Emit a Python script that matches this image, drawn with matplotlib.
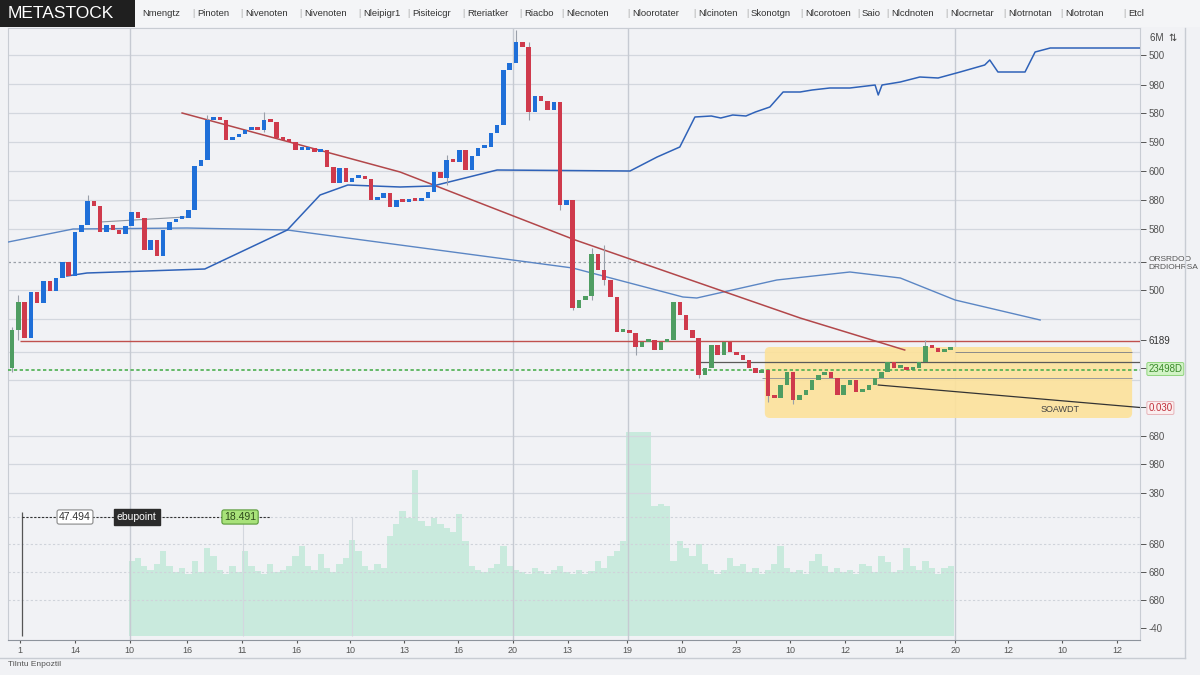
import numpy as np
import matplotlib.pyplot as plt
from matplotlib.patches import Rectangle, FancyBboxPatch
from matplotlib.lines import Line2D

plt.rcParams['font.family'] = ['Liberation Sans', 'DejaVu Sans']

# ---- data ----
first_open = 272
closes = [310, 338, 302, 348, 337, 359, 349, 362, 378, 364,
          408, 415, 439, 434, 408, 415, 410, 406, 414, 428,
          422, 390, 400, 384, 410, 418, 421, 422, 430, 474,
          480, 520, 522, 520, 500, 503, 506, 510, 512, 510,
          520, 518, 502, 500, 498, 490, 490, 492, 488, 490,
          473, 457, 472, 458, 462, 463, 461, 440, 442, 447,
          433, 440, 438, 440, 439, 442, 448, 468, 462, 480,
          478, 490, 470, 484, 492, 493, 507, 515, 570, 577,
          598, 593, 528, 544, 539, 530, 538, 435, 440, 332,
          340, 344, 386, 370, 360, 343, 308, 310, 307, 293,
          298, 300, 290, 298, 300, 338, 325, 310, 302, 265,
          272, 295, 285, 298, 288, 285, 280, 272, 267, 270,
          244, 242, 255, 268, 240, 245, 250, 260, 265, 268,
          262, 245, 255, 260, 248, 250, 255, 262, 268, 278,
          272, 272, 270, 272, 278, 294, 292, 288, 290, 291]

wick_idx = [0, 1, 12, 31, 40, 69, 80, 82, 87, 89, 92, 94, 99, 109, 120, 124, 145]
wick_low = [268, 300, 428, 515, 508, 455, 590, 520, 430, 330, 340, 355, 285, 262, 238, 236, 290]
wick_high = [313, 345, 445, 525, 528, 485, 610, 598, 445, 345, 392, 395, 300, 275, 250, 252, 300]

vol_start = 19
volume = [75, 78, 70, 66, 72, 85, 70, 64, 68, 62, 75, 64, 88, 80, 66, 62, 70, 64, 85, 70,
          65, 62, 72, 64, 66, 70, 80, 90, 70, 66, 82, 68, 64, 72, 78, 96, 85, 70, 66, 72,
          68, 100, 112, 125, 118, 166, 115, 110, 118, 112, 108, 104, 122, 95, 70, 66, 64, 68, 72, 90,
          70, 66, 64, 62, 68, 65, 62, 66, 70, 64, 62, 66, 62, 65, 75, 68, 80, 85, 95, 204,
          204, 204, 204, 130, 132, 130, 75, 95, 88, 80, 92, 72, 66, 62, 66, 78, 70, 72, 64, 68,
          62, 66, 72, 90, 68, 64, 66, 62, 75, 82, 70, 64, 68, 64, 66, 62, 72, 70, 64, 80,
          74, 64, 66, 88, 70, 66, 75, 68, 62, 68, 70]

ma_slow_x = [-0.6, 9.7, 27.8, 43.7, 61.6, 89.0, 106.5, 108.7, 121.4, 133.0, 141.0, 149.7, 163.2]
ma_slow_y = [398, 411, 412, 410, 395, 372, 343, 342, 360, 368, 362, 340, 320]

trend2_x = [8.7, 11.9, 30.6, 43.7, 48.9, 53.3, 61.6, 66.8, 77.0, 98.1, 102.4, 106.0, 108.4,
            111.0, 112.5, 114.4, 116.5, 118.0, 120.3, 122.4, 125.1, 127.0, 129.8, 133.0, 137.0,
            137.5, 138.1, 141.0, 144.1, 147.0, 150.5, 154.4, 155.2, 156.5, 160.8, 162.4, 164.8, 179.8]
trend2_y = [364, 367, 371, 410, 445, 455, 453, 454, 470, 469, 483, 493, 523,
            524, 522, 525, 524, 528, 533, 548, 548, 550, 552, 552, 555,
            545, 555, 558, 563, 562, 568, 575, 580, 568, 568, 588, 592, 592]

resist_x = [27.0, 61.6, 89.4, 125.1, 141.7]
resist_y = [527, 468, 400, 322, 290]

tick_idx = [1.3, 10.0, 18.7, 27.8, 36.5, 45.2, 53.7, 62.2, 70.8, 79.5, 88.2,
            97.6, 106.3, 115.0, 123.5, 132.2, 140.9, 149.7, 158.1, 166.7, 175.4]
tick_labels = ['1', '14', '10', '16', '11', '16', '10', '13', '16', '20', '13',
               '19', '10', '23', '10', '12', '14', '20', '12', '10', '12']

right_vals = [585, 555, 527, 498, 469, 440, 411, 378, 350, 300, 272, 233,
              204, 176, 147, 96, 68, 40, 12]
right_labels = ['500', '980', '580', '590', '600', '880', '580', 'ORSRDOO\nDRDIOHRSA', '500',
                '6189', '23498D', '0.030', '680', '980', '380', '680', '680', '680', '-40']

grid_solid = [585, 556, 527, 498, 469, 440, 411, 350, 321, 288, 260, 204, 176, 147]
grid_dotted = [123, 96, 68, 40]

menu_items = ['Nmengtz', 'Pinoten', 'Nivenoten', 'Nivenoten', 'Nleipigr1', 'Pisiteicgr',
              'Rteriatker', 'Riacbo', 'Nlecnoten', 'Nloorotater', 'Nlcinoten', 'Skonotgn',
              'Nlcorotoen', 'Saio', 'Nlcdnoten', 'Nlocrnetar', 'Nlotrnotan', 'Nlotrotan', 'Etcl']
menu_x = [142, 197, 245, 304, 363, 412, 467, 524, 566, 632, 698, 751, 805, 862, 891, 950,
          1008, 1065, 1128]

# ---- figure ----
W, H = 1200, 675
fig = plt.figure(figsize=(12, 6.75), dpi=100, facecolor='#f1f2f5')
ax = fig.add_axes([8 / W, 1 - 640 / H, (1140 - 8) / W, (640 - 28) / H])
axv = ax.twinx()
ax.set_zorder(axv.get_zorder() + 1)
ax.patch.set_visible(False)
axv.set_facecolor('#f5f6f9')

xlim = (-0.635, 179.05)
ax.set_xlim(*xlim)
ax.set_ylim(0, 612)
axv.set_ylim(-4, 608)
axv.set_yticks([])

# volume
vx = np.arange(vol_start, vol_start + len(volume))
axv.bar(vx, volume, width=1.0, color='#c9eadd', edgecolor='none', zorder=1)

# grid
for g in grid_solid:
    ax.axhline(g, color='#d3d7de', lw=0.9, zorder=1)
for g in grid_dotted:
    ax.axhline(g, color='#cfd3da', lw=0.8, ls=(0, (2, 2)), zorder=1)
ax.axhline(378, color='#9aa0a8', lw=0.9, ls=(0, (2, 2)), zorder=1)
for vxl in [18.7, 79.5, 97.7, 149.7]:
    ax.axvline(vxl, color='#c6cad2', lw=1.0, zorder=1)
for vxl in [36.7, 54.0]:
    ax.vlines(vxl, 4, 123, color='#d3d7de', lw=0.8, zorder=1)
ax.vlines(1.6, 4, 128, color='#555555', lw=0.9, zorder=2)

# yellow zone
zone = FancyBboxPatch((119.5, 222), 58.3, 71, boxstyle='round,pad=0,rounding_size=0.8',
                      mutation_aspect=6.3, facecolor='#fde29a', edgecolor='none',
                      alpha=0.9, zorder=2)
ax.add_patch(zone)
ax.hlines(278, 109, 179, color='#5a5a5a', lw=0.9, zorder=3)
ax.hlines(288, 149.7, 177.8, color='#8a8a8a', lw=0.7, zorder=3)
ax.hlines(262, 119, 177.8, color='#9a9a9a', lw=0.7, zorder=3)

# reference levels
ax.hlines(299, 1.3, xlim[1], color='#c0504d', lw=1.0, zorder=3)
ax.axhline(270, color='#4caf50', lw=1.2, ls=(0, (2, 1.5)), zorder=3)

# lines
ax.plot(ma_slow_x, ma_slow_y, color='#5b86c4', lw=1.0, zorder=3)
ax.plot(trend2_x, trend2_y, color='#2f62b8', lw=1.1, zorder=3)
ax.plot(resist_x, resist_y, color='#b2474a', lw=1.1, zorder=3)
ax.plot([14, 27.5], [418, 423], color='#8d96a3', lw=0.8, zorder=3)
ax.plot([137.5, 180], [255, 232], color='#333333', lw=0.9, zorder=3)

# candles
closes = np.array(closes, float)
opens = np.r_[first_open, closes[:-1]]
idx = np.arange(len(closes))
up = closes >= opens
up_col = np.where((idx < 2) | (idx >= 89), '#4f9d62', '#1f6fd8')
colors = np.where(up, up_col, '#cf3a4c')
ax.vlines(wick_idx, wick_low, wick_high, color='#9aa0aa', lw=0.8, zorder=4)
ax.bar(idx, np.maximum(np.abs(closes - opens), 3), bottom=np.minimum(opens, closes),
       width=0.72, color=colors, edgecolor='none', zorder=5)

# volume labels row
ax.hlines(123, 1.6, 41, color='#333333', lw=0.8, ls=(0, (2, 1.5)), zorder=6)
ax.text(10, 123, '47.494', fontsize=7.5, ha='center', va='center', color='#333333', zorder=7,
        bbox=dict(boxstyle='round,pad=0.2', fc='#ffffff', ec='#888888', lw=0.8))
ax.text(19.8, 123, 'ebupoint', fontsize=7.5, ha='center', va='center', color='#ffffff', zorder=7,
        bbox=dict(boxstyle='square,pad=0.3', fc='#2b2b2b', ec='#2b2b2b'))
ax.text(36.2, 123, '18.491', fontsize=7.5, ha='center', va='center', color='#2d4a1a', zorder=7,
        bbox=dict(boxstyle='round,pad=0.2', fc='#a8e27a', ec='#5a9a3a', lw=0.8))
ax.text(169.5, 231, 'SOAWDT', fontsize=6.5, ha='right', va='center', color='#444444', zorder=7)

# axes styling
ax.set_xticks(tick_idx, tick_labels)
ax.tick_params(axis='x', labelsize=6.5, colors='#555555', length=2, pad=2)
ax.yaxis.tick_right()
ax.set_yticks(right_vals, right_labels)
ax.tick_params(axis='y', labelsize=7, colors='#555555', length=4, pad=2, width=0.7)
for lab in ax.get_yticklabels():
    t = lab.get_text()
    if t.startswith('ORSR'):
        lab.set_fontsize(6)
    elif t == '23498D':
        lab.set_color('#3a8a2a')
        lab.set_bbox(dict(boxstyle='round,pad=0.15', fc='#d2f3c6', ec='#8fd47c', lw=0.7))
    elif t == '0.030':
        lab.set_color('#c0303a')
        lab.set_bbox(dict(boxstyle='round,pad=0.15', fc='#fbeff0', ec='#e7b3b8', lw=0.7))
    elif t == '6189':
        lab.set_color('#333333')
for sp in ['top', 'left', 'right', 'bottom']:
    ax.spines[sp].set_color('#c8ccd3')
    axv.spines[sp].set_visible(False)
ax.spines['bottom'].set_color('#8d939c')

# header bar and frame
fig.patches.append(Rectangle((0, 1 - 27 / H), 1, 27 / H, transform=fig.transFigure,
                             facecolor='#f4f5f7', edgecolor='none', zorder=0))
fig.patches.append(Rectangle((0, 1 - 27 / H), 135 / W, 27 / H, transform=fig.transFigure,
                             facecolor='#1f1f1f', edgecolor='none', zorder=1))
fig.text(8 / W, 1 - 14 / H, 'METASTOCK', color='white', fontsize=12.5, va='center', ha='left')
for i, (name, mx) in enumerate(zip(menu_items, menu_x)):
    fig.text(mx / W, 1 - 14 / H, name, fontsize=6.8, color='#333333', va='center', ha='left')
    if i > 0:
        fig.text((mx - 4) / W, 1 - 14 / H, '|', fontsize=6.5, color='#aaaaaa', va='center', ha='center')
fig.text(1150 / W, 1 - 38 / H, '6M  \u21c5', fontsize=7, color='#444444', va='center')
fig.lines.append(Line2D([1185 / W, 1185 / W], [1 - 658 / H, 1 - 28 / H],
                        transform=fig.transFigure, color='#c8ccd3', lw=1))
fig.lines.append(Line2D([0, 1185 / W], [1 - 658 / H, 1 - 658 / H],
                        transform=fig.transFigure, color='#c8ccd3', lw=1))
fig.text(8 / W, 1 - 665 / H, 'Tilntu Enpoztil', fontsize=6, color='#555555', va='center')

fig.savefig('out.png', dpi=100, facecolor=fig.get_facecolor())
